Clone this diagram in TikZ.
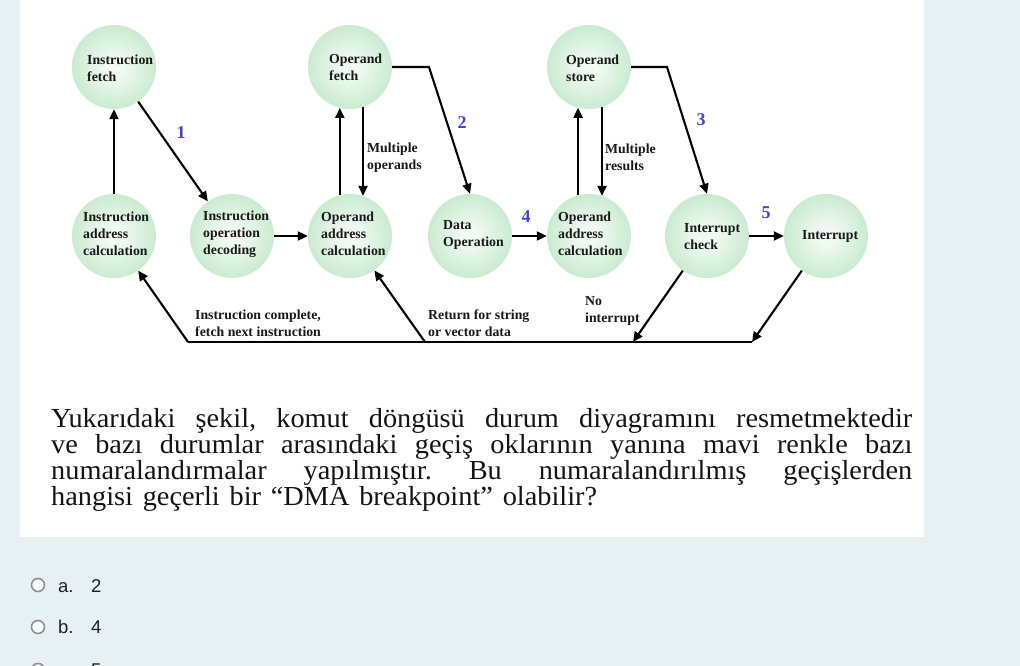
\documentclass[tikz,border=0pt]{standalone}
\usepackage{fontspec}
\setmainfont{Liberation Serif}
\newfontfamily\uisans{Liberation Sans}
\usetikzlibrary{arrows.meta}
\definecolor{bgc}{RGB}{231,241,244}
\definecolor{ballin}{RGB}{240,250,242}
\definecolor{ballmid}{RGB}{196,233,202}
\definecolor{ballout}{RGB}{146,211,158}
\definecolor{numblue}{RGB}{66,66,215}
\definecolor{uitext}{RGB}{29,33,37}
\definecolor{radiogray}{RGB}{143,140,155}
\pgfdeclareradialshading{ballshade}{\pgfpoint{0bp}{0bp}}{color(0bp)=(ballin); color(5bp)=(ballin); color(28bp)=(ballmid); color(50bp)=(ballout)}
\frenchspacing
\newcommand{\qline}[2]{\scalebox{1.03}[1]{\makebox[#1][s]{#2}}}
\begin{document}
\begin{tikzpicture}[x=1pt,y=-1pt,
  ball/.style={circle, minimum size=84pt, inner sep=0pt, shading=ballshade},
  lbl/.style={align=left, anchor=west, inner sep=0pt, text=black!90, font=\fontsize{13.8}{17}\selectfont\bfseries},
  num/.style={inner sep=0pt, text=numblue, font=\fontsize{18}{18}\selectfont\bfseries},
  arr/.style={line width=2.1pt, -{Triangle[length=10pt,width=9pt]}},
  ln/.style={line width=2.1pt},
  para/.style={anchor=base west, inner sep=0pt, text=black!92, font=\fontsize{27.5}{26}\selectfont},
  opt/.style={anchor=base west, inner sep=0pt, text=uitext, font=\uisans\fontsize{18.5}{20}\selectfont},
  radio/.style={circle, draw=radiogray, fill=white, line width=1.6pt, minimum size=13pt, inner sep=0pt}]
\useasboundingbox (0,0) rectangle (1020,666);
\clip (0,0) rectangle (1020,666);
\fill[bgc] (0,0) rectangle (1020,666);
\fill[white] (20,0) rectangle (924,537);

% states
\node[ball] (ifetch) at (114,67) {};
\node[ball] (of) at (350,67) {};
\node[ball] (os) at (589,67) {};
\node[ball] (iac) at (114,236) {};
\node[ball] (iod) at (232,236) {};
\node[ball] (oac) at (350,236) {};
\node[ball] (dop) at (470,236) {};
\node[ball] (oac2) at (589,236) {};
\node[ball] (ic) at (707,236) {};
\node[ball] (int) at (826,236) {};

\node[lbl] (t-ifetch) at (87,68) {Instruction\\fetch};
\node[lbl] (t-of) at (329,67) {Operand\\fetch};
\node[lbl] (t-os) at (566,68) {Operand\\store};
\node[lbl] (t-iac) at (83,234) {Instruction\\address\\calculation};
\node[lbl] (t-iod) at (203,234) {Instruction\\operation\\decoding};
\node[lbl] (t-oac) at (321,234) {Operand\\address\\calculation};
\node[lbl] (t-dop) at (443,234.5) {Data\\Operation};
\node[lbl] (t-oac2) at (558,234) {Operand\\address\\calculation};
\node[lbl] (t-ic) at (684,237) {Interrupt\\check};
\node[lbl] (t-int) at (802,236) {Interrupt};

% helper points
\coordinate (c2) at (429,67);
\coordinate (c3) at (667,67);
\coordinate (n1) at (633,342);
\coordinate (n2) at (752,342);
\coordinate (b1) at (188,342);
\coordinate (b2) at (425,342);

% connectors
\draw[arr] (iac) -- (ifetch);
\draw[arr] (ifetch) -- (iod);
\draw[arr] (iod) -- (oac);
\draw[arr] (oac.104) -- (of.256);
\draw[arr] (of.288) -- (oac.72);
\draw[arr] (of.east) -- (c2) -- (dop.north);
\draw[arr] (dop) -- (oac2);
\draw[arr] (oac2.105) -- (os.255);
\draw[arr] (os.288) -- (oac2.72);
\draw[arr] (os.east) -- (c3) -- (ic.north);
\draw[arr] (ic) -- (int);
\draw[arr] (ic) -- (n1);
\draw[arr] (int) -- (n2);
\draw[ln] (b1) -- (n2);
\draw[arr] (b1) -- (iac);
\draw[arr] (b2) -- (oac);

% connector labels
\node[lbl] (l-mo) at (367,157.5) {Multiple\\operands};
\node[lbl] (l-mr) at (605,157.5) {Multiple\\results};
\node[lbl] (l-icf) at (195,323) {Instruction complete,\\fetch next instruction};
\node[lbl] (l-rs) at (428,323) {Return for string\\or vector data};
\node[lbl] (l-ni) at (585,311) {No\\interrupt};

\node[num] (n-1) at (181,133) {1};
\node[num] (n-2) at (462,123) {2};
\node[num] (n-3) at (701,120) {3};
\node[num] (n-4) at (526,217) {4};
\node[num] (n-5) at (766,213) {5};

% question text
\node[para] (p1) at (51,427) {\qline{836pt}{Yukarıdaki şekil, komut döngüsü durum diyagramını resmetmektedir}};
\node[para] (p2) at (51,453) {\qline{836pt}{ve bazı durumlar arasındaki geçiş oklarının yanına mavi renkle bazı}};
\node[para] (p3) at (51,479) {\qline{836pt}{numaralandırmalar yapılmıştır. Bu numaralandırılmış geçişlerden}};
\node[para] (p4) at (51,505) {\qline{530pt}{hangisi geçerli bir “DMA breakpoint” olabilir?}};

% options
\node[radio] (ra) at (38,585) {};
\node[opt] (oa) at (58,592) {a.};
\node[opt] (va) at (91,592) {2};
\node[radio] (rb) at (38,627) {};
\node[opt] (ob) at (58,633) {b.};
\node[opt] (vb) at (91,633) {4};
\node[radio] (rc) at (38,670) {};
\node[opt] (oc) at (58,676) {c.};
\node[opt] (vc) at (91,676) {5};
\end{tikzpicture}
\end{document}
